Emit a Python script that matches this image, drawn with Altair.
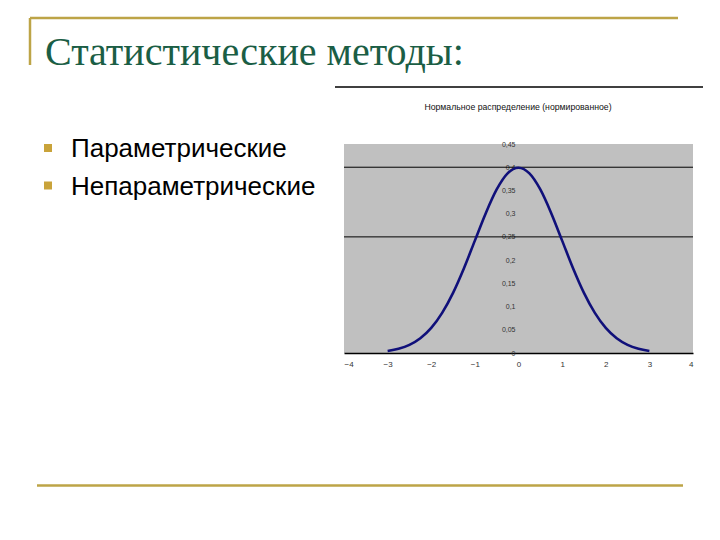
import altair as alt
import pandas as pd

# ---- data ----
x_vals = [-3.0, -2.75, -2.5, -2.25, -2.0, -1.75, -1.5, -1.25, -1.0, -0.75, -0.5, -0.25,
          0.0, 0.25, 0.5, 0.75, 1.0, 1.25, 1.5, 1.75, 2.0, 2.25, 2.5, 2.75, 3.0]
density = [0.0044, 0.0091, 0.0175, 0.0317, 0.0540, 0.0863, 0.1295, 0.1826, 0.2420, 0.3011,
           0.3521, 0.3867, 0.3989, 0.3867, 0.3521, 0.3011, 0.2420, 0.1826, 0.1295, 0.0863,
           0.0540, 0.0317, 0.0175, 0.0091, 0.0044]
x_ticks = [-4, -3, -2, -1, 0, 1, 2, 3, 4]
y_ticks = [0, 0.05, 0.1, 0.15, 0.2, 0.25, 0.3, 0.35, 0.4, 0.45]
grid_values = [0.4, 0.25]

slide_title = "Статистические методы:"
bullets = ["Параметрические", "Непараметрические"]
chart_title = "Нормальное распределение (нормированное)"

GOLD = "#bda447"
GREEN = "#1b5e45"

curve_df = pd.DataFrame({"x": x_vals, "y": density})
grid_df = pd.DataFrame({"y": grid_values})
one = pd.DataFrame({"k": [0]})

x_scale = alt.Scale(domain=[-4, 4], nice=False, zero=False)
y_scale = alt.Scale(domain=[0, 0.45], nice=False)

x_axis = alt.Axis(
    values=x_ticks, title=None, grid=False, ticks=False,
    domain=True, domainColor="#000000", domainWidth=1.5,
    labelFont="Liberation Sans", labelFontSize=8, labelColor="#333333",
    labelPadding=7,
)
y_axis = alt.Axis(
    values=y_ticks, title=None, grid=False, ticks=False, domain=False,
    format=".2~f", labelExpr="replace(datum.label, '.', ',')",
    offset=-174, labelPadding=3, labelBound=False, labelOverlap=False,
    labelFont="Liberation Sans", labelFontSize=7, labelColor="#333333",
)

grid = alt.Chart(grid_df).mark_rule(color="#000000", strokeWidth=1).encode(
    y=alt.Y("y:Q", scale=y_scale, axis=y_axis)
)

curve = alt.Chart(curve_df).mark_line(
    color="#10107a", strokeWidth=2.6, interpolate="monotone"
).encode(
    x=alt.X("x:Q", scale=x_scale, axis=x_axis),
    y=alt.Y("y:Q", scale=y_scale, axis=y_axis),
)

# ---- slide decorations ----
def hline(x1, x2, y, color, w):
    return alt.Chart(one).mark_rule(color=color, strokeWidth=w).encode(
        x=alt.value(x1), x2=alt.value(x2), y=alt.value(y))

def vline(x, y1, y2, color, w):
    return alt.Chart(one).mark_rule(color=color, strokeWidth=w).encode(
        x=alt.value(x), y=alt.value(y1), y2=alt.value(y2))

top_gold = hline(-314, 334, -126, GOLD, 2.5)
left_gold = vline(-314, -126, -79, GOLD, 2.5)
bottom_gold = hline(-307, 339, 341.5, GOLD, 2.5)
black_line = hline(-9, 359, -57, "#000000", 1.5)

title_txt = alt.Chart(one).mark_text(
    text=slide_title, font="Liberation Serif", fontSize=40, color=GREEN,
    align="left", baseline="alphabetic"
).encode(x=alt.value(-299), y=alt.value(-79))

chart_title_txt = alt.Chart(one).mark_text(
    text=chart_title, font="Liberation Sans", fontSize=8.7, color="#111111",
    align="center", baseline="middle"
).encode(x=alt.value(174), y=alt.value(-37))

bullet_layers = []
for i, b in enumerate(bullets):
    yb = 13 + i * 37.5
    bullet_layers.append(
        alt.Chart(one).mark_square(size=64, color="#c9a33a", opacity=1, filled=True)
        .encode(x=alt.value(-296), y=alt.value(yb - 9))
    )
    bullet_layers.append(
        alt.Chart(one).mark_text(
            text=b, font="Liberation Sans", fontSize=26, color="#000000",
            align="left", baseline="alphabetic"
        ).encode(x=alt.value(-273), y=alt.value(yb))
    )

chart = alt.layer(
    grid, curve, top_gold, left_gold, bottom_gold, black_line,
    title_txt, chart_title_txt, *bullet_layers
).properties(
    width=349, height=209,
    autosize=alt.AutoSizeParams(type="none"),
    padding={"left": 336, "top": 136, "right": 19, "bottom": 179},
    background="#ffffff",
).configure_view(fill="#c0c0c0", stroke=None)

chart.save("out.html", embed_options={"renderer": "svg", "actions": False})
